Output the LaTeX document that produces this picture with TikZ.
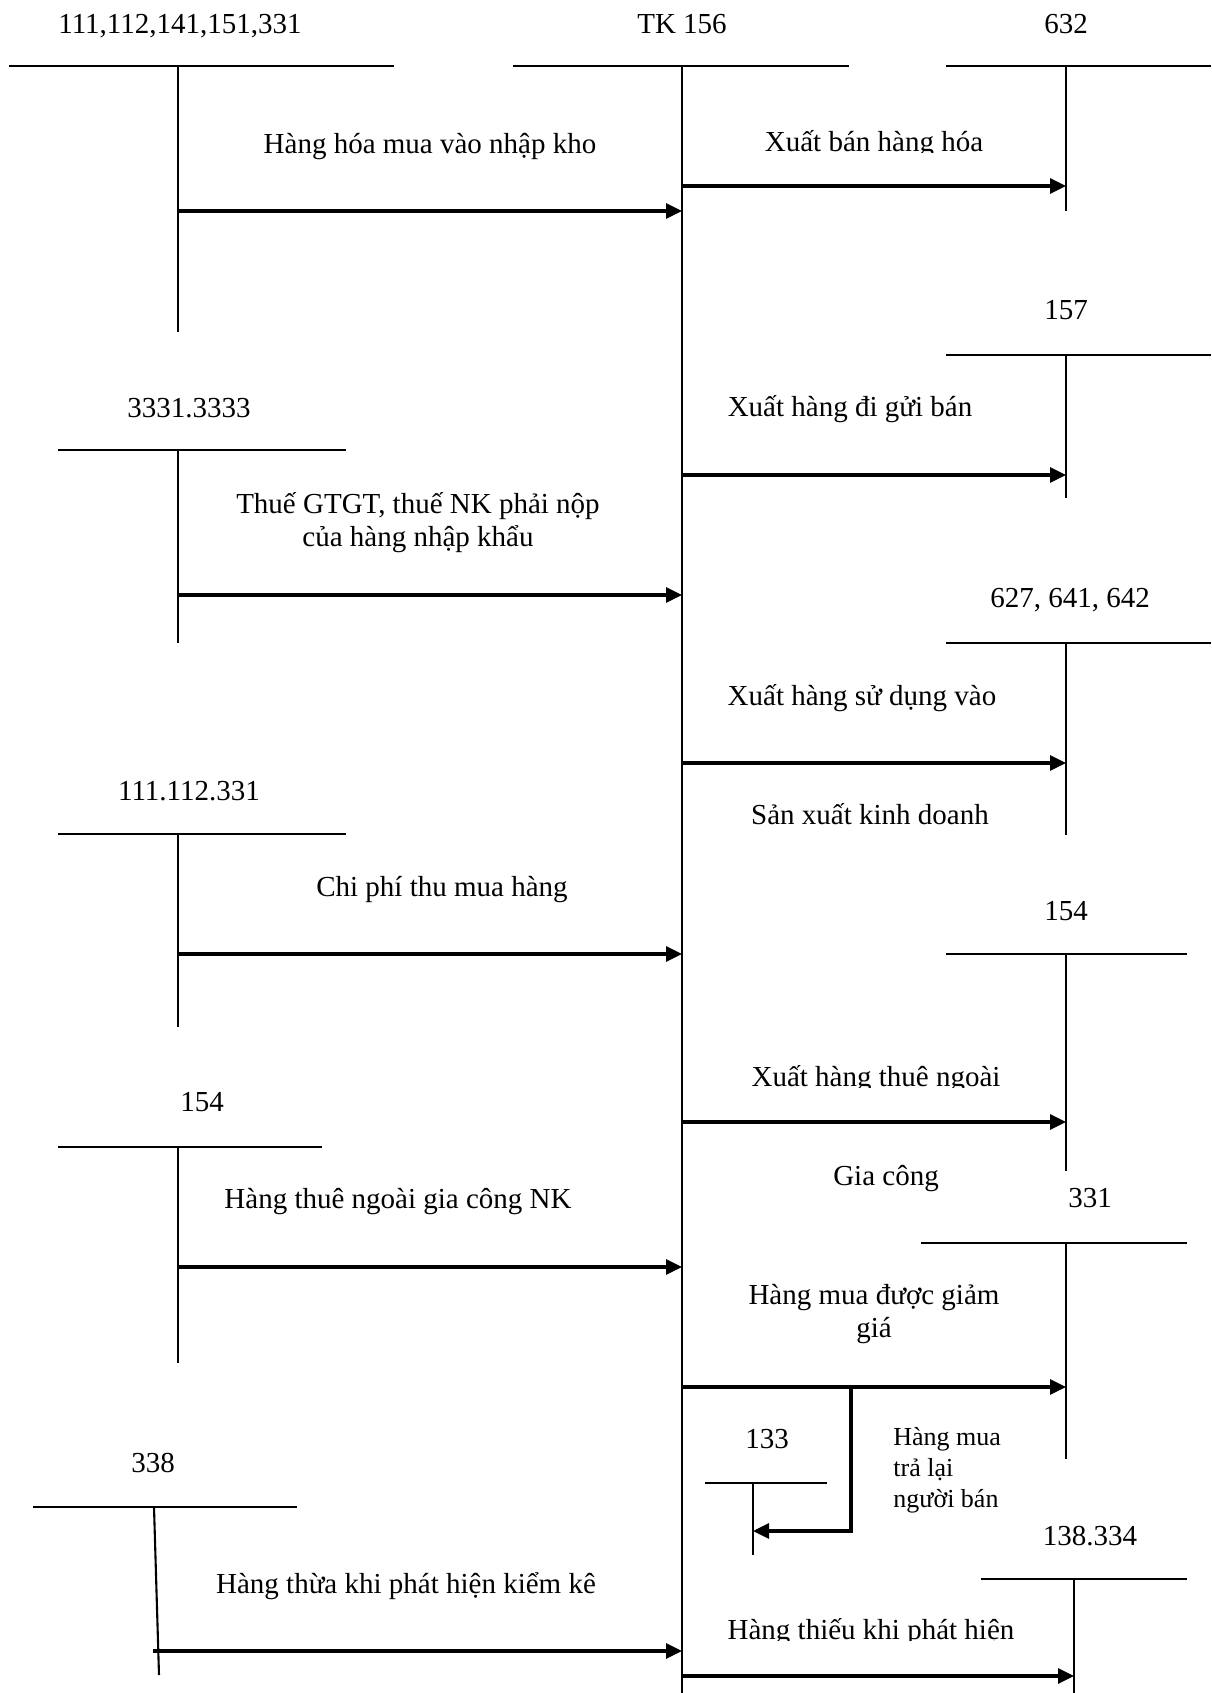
\documentclass[tikz,border=0pt]{standalone}
\usepackage{fontspec}
\setmainfont{Liberation Serif}
\usetikzlibrary{arrows.meta}
\begin{document}
\begin{tikzpicture}[x=0.5pt,y=-0.5pt,
  tline/.style={line width=1.05pt},
  flow/.style={line width=1.6pt,-{Triangle[length=8pt,width=7.5pt]}},
  lbl/.style={inner sep=0pt,anchor=base,font=\fontsize{14.5pt}{16.5pt}\selectfont},
  small/.style={inner sep=0pt,anchor=base west,align=left,font=\fontsize{13pt}{15.5pt}\selectfont}]
\useasboundingbox (0,0) rectangle (1211,1693);

% ---------- T-accounts: horizontal bar and vertical stem ----------
% central account TK 156
\draw[tline] (513,66) -- (849,66);
\coordinate (tkT) at (682,66);
\coordinate (tkB) at (682,1693);
\draw[tline] (tkT) -- (tkB);
% debit side accounts (left)
\draw[tline] (9,66) -- (394,66);     \draw[tline] (178,66) -- (178,332);
\draw[tline] (58,450) -- (346,450);  \draw[tline] (178,450) -- (178,643);
\draw[tline] (58,834) -- (346,834);  \draw[tline] (178,834) -- (178,1027);
\draw[tline] (58,1147) -- (322,1147);\draw[tline] (178,1147) -- (178,1363);
\draw[tline] (33,1507) -- (297,1507);\draw[tline] (154,1507) -- (159,1675);
% credit side accounts (right)
\draw[tline] (946,66) -- (1211,66);    \draw[tline] (1066,66) -- (1066,211);
\draw[tline] (946,355) -- (1211,355);  \draw[tline] (1066,355) -- (1066,498);
\draw[tline] (946,643) -- (1211,643);  \draw[tline] (1066,643) -- (1066,835);
\draw[tline] (946,954) -- (1187,954);  \draw[tline] (1066,954) -- (1066,1171);
\draw[tline] (921,1243) -- (1187,1243);\draw[tline] (1066,1243) -- (1066,1459);
\draw[tline] (705,1483) -- (827,1483); \draw[tline] (753,1483) -- (753,1555);
\draw[tline] (981,1579) -- (1187,1579);\draw[tline] (1074,1579) -- (1074,1693);

% ---------- account titles ----------
\node[lbl] (tA)   at (180,33)    {111,112,141,151,331};
\node[lbl] (tTK)  at (682,33)    {TK 156};
\node[lbl] (t632) at (1066,33)   {632};
\node[lbl] (t157) at (1066,319)  {157};
\node[lbl] (tB)   at (189,417)   {3331.3333};
\node[lbl] (t627) at (1070,607)  {627, 641, 642};
\node[lbl] (tC)   at (189,800)   {111.112.331};
\node[lbl] (t154r) at (1066,920) {154};
\node[lbl] (t154l) at (202,1111) {154};
\node[lbl] (t331) at (1090,1207) {331};
\node[lbl] (t133) at (767,1448)  {133};
\node[lbl] (t338) at (153,1472)  {338};
\node[lbl] (t138) at (1090,1545) {138.334};

% ---------- flow connectors ----------
\coordinate (a1s) at (178,211);  \coordinate (a1e) at (682,211);
\coordinate (b1s) at (682,186);  \coordinate (b1e) at (1066,186);
\coordinate (b2s) at (682,475);  \coordinate (b2e) at (1066,475);
\coordinate (a2s) at (178,595);  \coordinate (a2e) at (682,595);
\coordinate (b3s) at (682,763);  \coordinate (b3e) at (1066,763);
\coordinate (a3s) at (178,954);  \coordinate (a3e) at (682,954);
\coordinate (b4s) at (682,1122); \coordinate (b4e) at (1066,1122);
\coordinate (a4s) at (178,1267); \coordinate (a4e) at (682,1267);
\coordinate (b5s) at (682,1387); \coordinate (b5e) at (1066,1387);
\coordinate (br)  at (851,1387); \coordinate (brd) at (851,1531);
\coordinate (b6e) at (753,1531);
\coordinate (a5s) at (153,1651); \coordinate (a5e) at (682,1651);
\coordinate (b7s) at (682,1676); \coordinate (b7e) at (1074,1676);

\draw[flow] (a1s) -- (a1e);
\draw[flow] (b1s) -- (b1e);
\draw[flow] (b2s) -- (b2e);
\draw[flow] (a2s) -- (a2e);
\draw[flow] (b3s) -- (b3e);
\draw[flow] (a3s) -- (a3e);
\draw[flow] (b4s) -- (b4e);
\draw[flow] (a4s) -- (a4e);
\draw[flow] (b5s) -- (b5e);
\draw[flow] (br) -- (brd) -- (b6e);
\draw[flow] (a5s) -- (a5e);
\draw[flow] (b7s) -- (b7e);

% ---------- transaction descriptions ----------
\node[lbl] (d1) at (430,153) {Hàng hóa mua vào nhập kho};
\begin{scope}
  \clip (700,100) rectangle (1050,152);
  \node[lbl] (d2) at (874,151.5) {Xuất bán hàng hóa};
\end{scope}
\node[lbl] (d3) at (850,416) {Xuất hàng đi gửi bán};
% multi-line nodes sit on the baseline of their last line
\node[lbl,align=center] (d4) at (418,546) {Thuế GTGT, thuế NK phải nộp\\của hàng nhập khẩu};
\node[lbl] (d5) at (862,705) {Xuất hàng sử dụng vào};
\node[lbl] (d6) at (870,824) {Sản xuất kinh doanh};
\node[lbl] (d7) at (442,896) {Chi phí thu mua hàng};
\begin{scope}
  \clip (700,1040) rectangle (1050,1087);
  \node[lbl] (d8) at (876,1086.5) {Xuất hàng thuê ngoài};
\end{scope}
\node[lbl] (d9) at (886,1185) {Gia công};
\node[lbl] (d10) at (398,1208) {Hàng thuê ngoài gia công NK};
\node[lbl,align=center] (d11) at (874,1337) {Hàng mua được giảm\\giá};
\node[small] (d12) at (893,1507) {Hàng mua\\trả lại\\người bán};
\node[lbl] (d13) at (406,1593) {Hàng thừa khi phát hiện kiểm kê};
\begin{scope}
  \clip (700,1595) rectangle (1050,1640);
  \node[lbl] (d14) at (871,1639.5) {Hàng thiếu khi phát hiện};
\end{scope}
\end{tikzpicture}
\end{document}
